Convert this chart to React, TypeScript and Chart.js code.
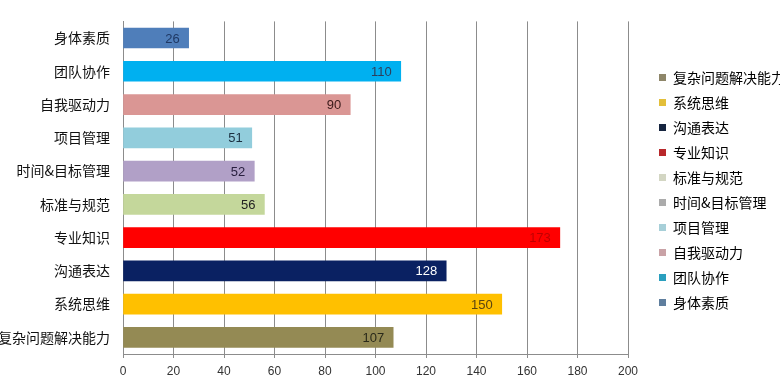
import React, { useEffect, useRef } from 'react';
import { Chart, registerables } from 'chart.js';

Chart.register(...registerables);

const categories = ['身体素质', '团队协作', '自我驱动力', '项目管理', '时间&目标管理', '标准与规范', '专业知识', '沟通表达', '系统思维', '复杂问题解决能力'];
const values = [26, 110, 90, 51, 52, 56, 173, 128, 150, 107];
const barColors = ['#4F7EBA', '#00B0F0', '#DA9694', '#92CDDC', '#B1A0C7', '#C4D79B', '#FF0000', '#0A2162', '#FFC000', '#948A54'];
const valueLabelColors = ['#1F3864', '#2B3F5C', '#3A1A1A', '#1B3040', '#2A2040', '#222222', '#C00000', '#FFFFFF', '#5A4410', '#2A2A1A'];
const legendColors = ['#5F7E9E', '#2A9FBE', '#C9A2A6', '#A7CFD8', '#ABABAB', '#D3D6C3', '#B8282B', '#16243F', '#E3BF3A', '#8E8669'];
const xMin = 0;
const xMax = 200;
const xStep = 20;

const CJK = '"Noto Sans CJK SC", "Noto Sans", sans-serif';
const NUM = '"Liberation Sans", Arial, sans-serif';

const valueLabels = {
  id: 'valueLabels',
  afterDatasetsDraw(chart: any) {
    const ctx = chart.ctx;
    const meta = chart.getDatasetMeta(0);
    ctx.save();
    ctx.font = `13px ${NUM}`;
    ctx.textAlign = 'right';
    ctx.textBaseline = 'middle';
    meta.data.forEach((bar: any, i: number) => {
      ctx.fillStyle = valueLabelColors[i];
      ctx.fillText(String(values[i]), bar.x - 9, bar.y + 1);
    });
    ctx.restore();
  },
};

const legendShift = {
  id: 'legendShift',
  afterLayout(chart: any) {
    const l = chart.legend;
    if (l) {
      l.left += 20;
      l.right += 20;
      l.top -= 4.5;
      l.bottom -= 4.5;
    }
  },
};

export default function App() {
  const ref = useRef<HTMLCanvasElement | null>(null);
  useEffect(() => {
    if (!ref.current) return;
    const chart = new Chart(ref.current, {
      type: 'bar',
      data: {
        labels: categories,
        datasets: [
          {
            data: values,
            backgroundColor: barColors,
            borderWidth: 0,
            barThickness: 20,
          },
        ],
      },
      options: {
        indexAxis: 'y',
        animation: false,
        responsive: false,
        devicePixelRatio: 1,
        layout: { padding: { top: 6, right: 12, left: 0, bottom: 0 } },
        plugins: {
          tooltip: { enabled: false },
          legend: {
            position: 'right',
            maxWidth: 140,
            labels: {
              boxWidth: 7,
              boxHeight: 7,
              padding: 11,
              color: '#222222',
              font: { family: CJK, size: 14 },
              generateLabels: () =>
                categories
                  .map((c, i) => ({
                    text: c,
                    fillStyle: legendColors[i],
                    strokeStyle: legendColors[i],
                    lineWidth: 0,
                    hidden: false,
                    index: i,
                    datasetIndex: 0,
                  }))
                  .reverse(),
            },
          },
        },
        scales: {
          x: {
            type: 'linear',
            min: xMin,
            max: xMax,
            ticks: {
              stepSize: xStep,
              color: '#333333',
              font: { family: NUM, size: 12 },
              padding: 6,
            },
            grid: { color: '#8C8C8C', lineWidth: 1, tickLength: 4, drawTicks: true },
            border: { color: '#8C8C8C' },
            afterFit: (s: any) => {
              s.height = 29;
            },
          },
          y: {
            type: 'category',
            ticks: {
              color: '#111111',
              font: { family: CJK, size: 14 },
              padding: 13,
            },
            grid: { display: false, drawTicks: false },
            border: { color: '#8C8C8C' },
            afterFit: (s: any) => {
              s.width = 123;
            },
          },
        },
      },
      plugins: [valueLabels, legendShift],
    } as any);
    return () => chart.destroy();
  }, []);
  return (
    <div style={{ position: 'fixed', left: 0, top: 0, width: 780, height: 383, background: '#fff' }}>
      <canvas ref={ref} width={780} height={383} style={{ width: 780, height: 383 }} />
    </div>
  );
}
